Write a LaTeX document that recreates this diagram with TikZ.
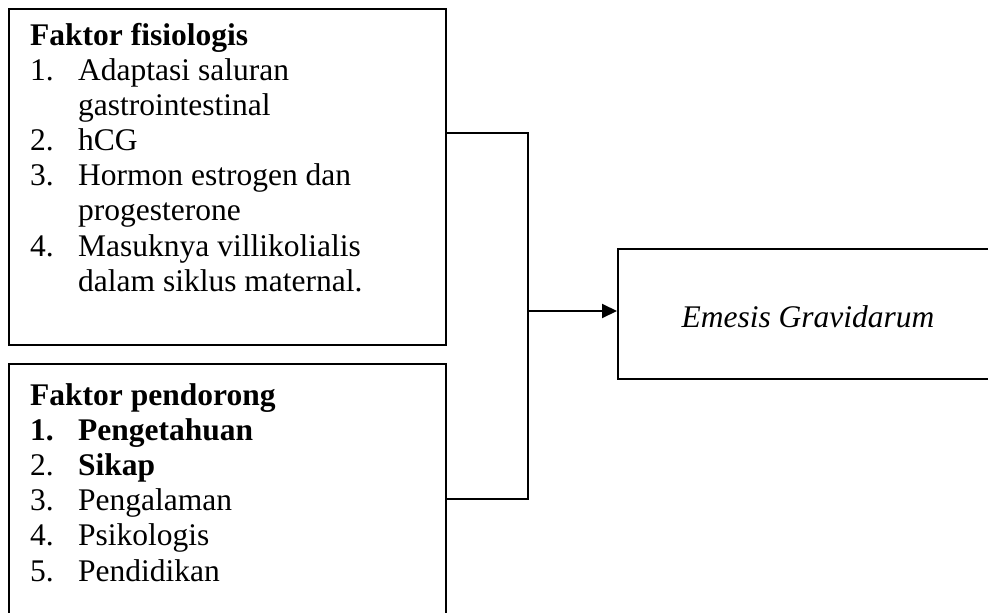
\documentclass[tikz,border=0pt]{standalone}
\usepackage{fontspec}
\setmainfont{Liberation Serif}
\usepackage{array}
\usetikzlibrary{arrows.meta, positioning}

\begin{document}
\begin{tikzpicture}[
    x=1pt, y=-1pt,
    factorbox/.style={draw, line width=2pt, anchor=north west, inner sep=0pt},
    listtext/.style={anchor=base west, inner sep=0pt, align=left, font=\fontsize{31.5}{35.2}\selectfont},
    connector/.style={line width=2pt},
    flow/.style={connector, -{Triangle[length=15pt, width=14pt]}},
  ]
    \useasboundingbox (0,0) rectangle (988,613);
    \clip (0,0) rectangle (988,613);

    % left boxes
    \node[factorbox, minimum width=437pt, minimum height=336pt] (fisiologis) at (8,8) {};
    \node[factorbox, minimum width=437pt, minimum height=300pt] (pendorong) at (8,363) {};
    % result box
    \node[factorbox, minimum width=420pt, minimum height=130pt] (emesis) at (617,248) {};

    \node[listtext] (fisiologislist) at (30,45) {%
      \begin{tabular}[t]{@{}p{48pt}@{}l@{}}
        \multicolumn{2}{@{}l@{}}{\textbf{Faktor fisiologis}}\\
        1. & Adaptasi saluran\\
           & gastrointestinal\\
        2. & hCG\\
        3. & Hormon estrogen dan\\
           & progesterone\\
        4. & Masuknya villikolialis\\
           & dalam siklus maternal.
      \end{tabular}};
    \node[listtext] (pendoronglist) at (30,405) {%
      \begin{tabular}[t]{@{}p{48pt}@{}l@{}}
        \multicolumn{2}{@{}l@{}}{\textbf{Faktor pendorong}}\\
        \textbf{1.} & \textbf{Pengetahuan}\\
        2. & \textbf{Sikap}\\
        3. & Pengalaman\\
        4. & Psikologis\\
        5. & Pendidikan
      \end{tabular}};
    \node[listtext, anchor=base] (emesislabel) at (808,327) {\textit{Emesis Gravidarum}};

    % joining bracket
    \coordinate (topjoin) at (528,133);
    \coordinate (bottomjoin) at (528,499);
    \coordinate (bus) at (528,311);
    \draw[connector] (fisiologis.east |- topjoin) -- (topjoin) -- (bottomjoin) -- (pendorong.east |- bottomjoin);
    \draw[flow] (bus) -- (emesis.west |- bus);
\end{tikzpicture}
\end{document}
